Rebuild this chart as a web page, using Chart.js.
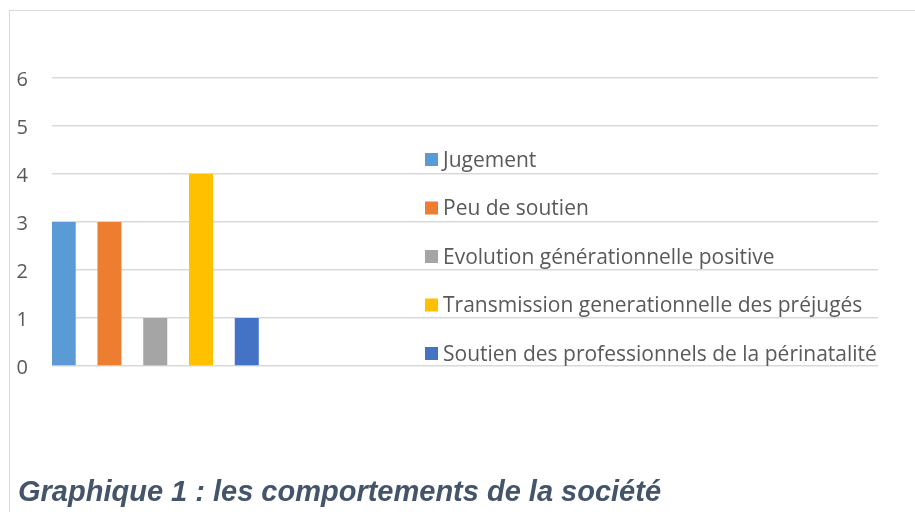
<!DOCTYPE html>
<html>
<head>
<meta charset="utf-8">
<script src="https://cdn.jsdelivr.net/npm/chart.js@4.4.1/dist/chart.umd.min.js"></script>
<style>
  html, body { margin: 0; padding: 0; background: #fff; overflow: hidden; }
  #wrap { position: relative; width: 915px; height: 512px; overflow: hidden; }
  #frame { position: absolute; left: 9px; top: 10px; width: 1000px; height: 600px; border: 1.5px solid #d9d9d9; }
  #chart { position: absolute; left: 0; top: 0; }
  #title {
    position: absolute; left: 18px; top: 477px;
    font-family: "Liberation Sans", Arial, sans-serif;
    font-weight: bold; font-style: italic; font-size: 29px; line-height: 29px;
    color: #44546a; white-space: nowrap;
  }
</style>
</head>
<body>
<div id="wrap">
  <div id="frame"></div>
  <canvas id="chart" width="915" height="512"></canvas>
  <div id="title">Graphique 1 : les comportements de la société</div>
</div>
<script>
// one real category, the rest are empty slots on the axis
const categories = ["Comportements", "", "", ""];
const seriesNames = [
  "Jugement",
  "Peu de soutien",
  "Evolution générationnelle positive",
  "Transmission generationnelle des préjugés",
  "Soutien des professionnels de la périnatalité"
];
const seriesValues = [3, 3, 1, 4, 1];
const seriesColors = ["#5b9bd5", "#ed7d31", "#a5a5a5", "#ffc000", "#4472c4"];
const yTicks = [0, 1, 2, 3, 4, 5, 6];

const textColor = "#595959";
const font = "'Open Sans', Lato, sans-serif";

// legend drawn inside the plot area, on the right
const sideLegend = {
  id: "sideLegend",
  afterDatasetsDraw(chart) {
    const ctx = chart.ctx;
    ctx.save();
    ctx.font = "21px " + font;
    ctx.textBaseline = "middle";
    chart.data.datasets.forEach((ds, i) => {
      const y = 160 + i * 48.5;
      ctx.fillStyle = ds.backgroundColor;
      ctx.fillRect(425, y - 7, 13, 13);
      ctx.fillStyle = textColor;
      ctx.fillText(ds.label, 443, y + 1);
    });
    ctx.restore();
  }
};

const datasets = seriesNames.map((name, i) => ({
  label: name,
  data: [seriesValues[i]],
  backgroundColor: seriesColors[i],
  borderWidth: 0,
  categoryPercentage: 1.108,
  barPercentage: 0.525
}));

const ctx = document.getElementById("chart").getContext("2d");
const chart = new Chart(ctx, {
  type: "bar",
  data: { labels: categories, datasets: datasets },
  options: {
    responsive: false,
    animation: false,
    devicePixelRatio: 1,
    layout: { padding: { left: 0, right: 37, top: 78, bottom: 146 } },
    plugins: {
      legend: { display: false },
      tooltip: { enabled: false }
    },
    scales: {
      x: { display: false },
      y: {
        min: 0,
        max: 6,
        afterFit(scale) { scale.width = 52; },
        afterBuildTicks(scale) { scale.ticks = yTicks.map(v => ({ value: v })); },
        border: { display: false },
        grid: { color: "#d9d9d9", lineWidth: 1.5, drawTicks: false },
        ticks: {
          color: textColor,
          font: { family: font, size: 20 },
          padding: 24,
          labelOffset: 2
        }
      }
    }
  },
  plugins: [sideLegend]
});
</script>
</body>
</html>
